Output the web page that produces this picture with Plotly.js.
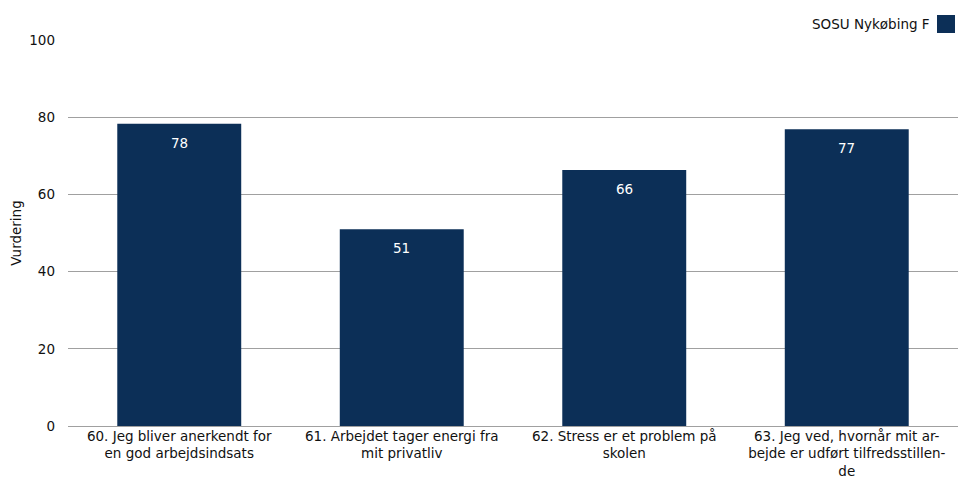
<!DOCTYPE html>
<html>
<head>
<meta charset="utf-8">
<script src="https://cdn.plot.ly/plotly-3.0.1.min.js"></script>
<style>html,body{margin:0;padding:0;background:#fff;}#chart{width:959px;height:485px;}</style>
</head>
<body>
<div id="chart"></div>
<script>
const categories = [
  "60. Jeg bliver anerkendt for<br>en god arbejdsindsats",
  "61. Arbejdet tager energi fra<br>mit privatliv",
  "62. Stress er et problem på<br>skolen",
  "63. Jeg ved, hvornår mit ar-<br>bejde er udført tilfredsstillen-<br>de"
];
const values = [78.3, 51.0, 66.3, 76.9];
const valueLabels = ["78", "51", "66", "77"];
const seriesName = "SOSU Nykøbing F";
const yTicks = [0, 20, 40, 60, 80, 100];

const FONT = "Tahoma, 'DejaVu Sans', Verdana, sans-serif";
const BAR = "#0c2f57";
const TXT = "#111111";

const trace = {
  type: "bar",
  x: categories,
  y: values,
  name: seriesName,
  marker: {color: BAR},
  hoverinfo: "none"
};

const valueAnnotations = categories.map((c, i) => ({
  x: c, y: values[i], xref: "x", yref: "y",
  text: valueLabels[i],
  showarrow: false,
  yanchor: "middle",
  yshift: -19,
  font: {family: FONT, size: 13.5, color: "#ffffff"}
}));

const layout = {
  width: 959,
  height: 485,
  margin: {l: 68, r: 1, t: 40, b: 59},
  paper_bgcolor: "#ffffff",
  plot_bgcolor: "#ffffff",
  font: {family: FONT, size: 13.5, color: TXT},
  showlegend: false,
  bargap: 0.443,
  xaxis: {
    showgrid: false,
    showline: false,
    zeroline: false,
    ticks: "",
    tickfont: {family: FONT, size: 13.5, color: TXT},
    automargin: false
  },
  yaxis: {
    range: [0, 100],
    tickvals: yTicks,
    ticktext: yTicks.map(String),
    showgrid: true,
    gridcolor: "#a0a0a0",
    gridwidth: 1,
    zeroline: true,
    zerolinecolor: "#a0a0a0",
    zerolinewidth: 1,
    showline: false,
    ticks: "",
    ticklabelstandoff: 12,
    tickfont: {family: FONT, size: 13.5, color: TXT},
    title: {text: "Vurdering", font: {family: FONT, size: 13.5, color: TXT}, standoff: 4},
    automargin: false
  },
  annotations: valueAnnotations.concat([{
    xref: "paper", yref: "paper",
    x: 0.9708, y: 1.0415, xanchor: "right", yanchor: "middle",
    text: seriesName,
    showarrow: false,
    font: {family: FONT, size: 13.5, color: TXT}
  }]),
  shapes: [{
    type: "rect",
    xref: "paper", yref: "paper",
    x0: 0.9764, x1: 0.9966, y0: 1.0181, y1: 1.0648,
    fillcolor: BAR,
    line: {width: 0}
  }]
};

Plotly.newPlot("chart", [trace], layout, {displayModeBar: false, staticPlot: true});
</script>
</body>
</html>
